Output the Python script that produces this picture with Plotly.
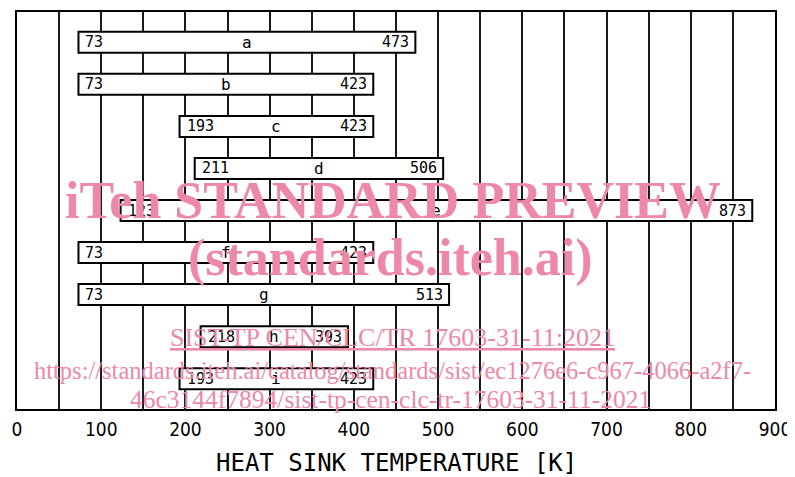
import plotly.graph_objects as go

letters = ["a", "b", "c", "d", "e", "f", "g", "h", "i"]
t_min = [73, 73, 193, 211, 123, 73, 73, 218, 193]
t_max = [473, 423, 423, 506, 873, 423, 513, 393, 423]
tick_vals = list(range(0, 901, 50))
tick_text = [str(v) if v % 100 == 0 else "" for v in tick_vals]

n = len(letters)
ypos = [n - 1 - i for i in range(n)]

MONO = "DejaVu Sans Mono, Liberation Mono, monospace"
NARROW = "Liberation Sans Narrow, DejaVu Sans Condensed, DejaVu Sans, sans-serif"
SERIF = "Liberation Serif, Times New Roman, serif"
PINK = "rgb(237,136,167)"

fig = go.Figure()
fig.add_trace(go.Bar(
    y=ypos,
    x=[b - a for a, b in zip(t_min, t_max)],
    base=t_min,
    orientation="h",
    width=0.5,
    marker=dict(color="white", line=dict(color="black", width=2)),
    hoverinfo="skip",
    showlegend=False,
))

ann = []
for lab, a, b, y in zip(letters, t_min, t_max, ypos):
    ann.append(dict(x=a, y=y, text=str(a), xanchor="left", yanchor="middle",
                    xshift=5, showarrow=False, font=dict(family=MONO, size=15, color="black")))
    ann.append(dict(x=b, y=y, text=str(b), xanchor="right", yanchor="middle",
                    xshift=-4, showarrow=False, font=dict(family=MONO, size=15, color="black")))
    ann.append(dict(x=(a + b) / 2, y=y, text=lab, xanchor="center", yanchor="middle",
                    showarrow=False, font=dict(family=MONO, size=16, color="black")))

ann.append(dict(xref="paper", yref="paper", x=0.5, y=-0.136, text="HEAT SINK TEMPERATURE [K]",
                showarrow=False, xanchor="center", yanchor="middle",
                font=dict(family=MONO, size=24, color="black")))

wm = [
    ("<b>iTeh STANDARD PREVIEW</b>", 0.496, 0.526, 52),
    ("<b>(standards.iteh.ai)</b>", 0.492, 0.38, 52),
    ("<u>SIST-TP CEN/CLC/TR 17603-31-11:2021</u>", 0.496, 0.181, 26),
    ("https://standards.iteh.ai/catalog/standards/sist/ec1276e6-c967-4066-a2f7-", 0.495, 0.098, 24.5),
    ("46c3144f7894/sist-tp-cen-clc-tr-17603-31-11-2021", 0.493, 0.023, 25.5),
]
for txt, x, y, s in wm:
    ann.append(dict(xref="paper", yref="paper", x=x, y=y, text=txt, showarrow=False,
                    xanchor="center", yanchor="middle",
                    font=dict(family=SERIF, size=s, color=PINK)))

# page body has an 8px default margin, so the figure is sized 787x469
fig.update_layout(
    width=787, height=469,
    margin=dict(l=9, r=20, t=4, b=68, autoexpand=False),
    paper_bgcolor="white", plot_bgcolor="white",
    annotations=ann,
    xaxis=dict(range=[0, 900], tickvals=tick_vals, ticktext=tick_text, automargin=False,
               showgrid=True, gridcolor="#1a1a1a", gridwidth=1.5,
               showline=True, linecolor="black", linewidth=1.5, mirror=True,
               zeroline=False, ticks="outside", ticklen=2, tickcolor="rgba(0,0,0,0)",
               tickfont=dict(family=NARROW, size=19, color="black"), fixedrange=True),
    yaxis=dict(range=[-0.72, n - 1 + 0.72], showticklabels=False, showgrid=False,
               showline=True, linecolor="black", linewidth=1.5, mirror=True,
               zeroline=False, fixedrange=True, automargin=False),
)

fig.write_html("out.html")
